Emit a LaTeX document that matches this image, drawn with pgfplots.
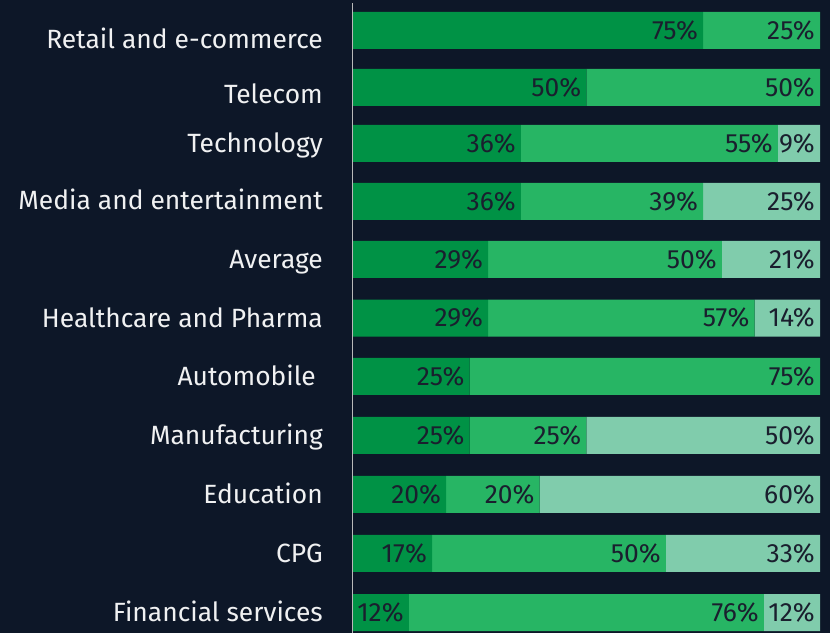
\documentclass[border=0pt]{standalone}
\usepackage{pgfplots}
\pgfplotsset{compat=1.18}
\usepackage{fontspec}
\setmainfont{Fira Sans}
\definecolor{bg}{HTML}{0D1728}
\definecolor{g1}{HTML}{009245}
\definecolor{g2}{HTML}{27B564}
\definecolor{g3}{HTML}{80CCAC}
\definecolor{txt}{HTML}{1A1F2E}
\begin{document}
\begin{tikzpicture}
\fill[bg] (0,0) rectangle (830bp,633bp);
\begin{axis}[
 at={(352.7bp,0bp)}, anchor=south west,
 scale only axis, width=467.3bp, height=633bp,
 xbar stacked, bar width=37bp,
 xmin=0, xmax=100, ymin=0, ymax=633, y dir=reverse,
 axis line style={draw=none},
 xtick=\empty,
 ytick={30.5,87.5,143.3,201.3,259.3,318,376.3,435.3,494.3,553.3,612.5},
 major tick length=0pt,
 yticklabels={
  {\raisebox{-8.3bp}{Retail and e-commerce}},
  {\raisebox{-6.5bp}{Telecom}},
  {Technology},
  {\raisebox{1.6bp}{Media and entertainment}},
  {\raisebox{0.5bp}{Average}},
  {Healthcare and Pharma},
  {Automobile\rule{7bp}{0pt}},
  {Manufacturing},
  {\raisebox{0.6bp}{Education}},
  {\raisebox{0.6bp}{CPG}},
  {\raisebox{0.8bp}{Financial services}}},
 yticklabel style={anchor=base east, inner sep=0pt, xshift=-29.7bp, yshift=-9.3bp, text=white!94!bg, font=\fontsize{26.5}{30}\selectfont},
 point meta=explicit symbolic,
 visualization depends on={rawx \as \rawx},
 nodes near coords={\pgfplotspointmeta},
 every node near coord/.append style={anchor=east, xshift={\rawx*2.3365bp-5bp}, text=txt, font=\fontsize{26.5}{30}\selectfont, inner sep=0pt},
 ]
\addplot[fill=g1, draw=none] coordinates {
 (75,30.5)[75\%] (50,87.5)[50\%] (36,143.3)[36\%] (36,201.3)[36\%] (29,259.3)[29\%] (29,318)[29\%]
 (25,376.3)[25\%] (25,435.3)[25\%] (20,494.3)[20\%] (17,553.3)[17\%] (12,612.5)[12\%]};
\addplot[fill=g2, draw=none] coordinates {
 (25,30.5)[25\%] (50,87.5)[50\%] (55,143.3)[55\%] (39,201.3)[39\%] (50,259.3)[50\%] (57,318)[57\%]
 (75,376.3)[75\%] (25,435.3)[25\%] (20,494.3)[20\%] (50,553.3)[50\%] (76,612.5)[76\%]};
\addplot[fill=g3, draw=none] coordinates {
 (0,30.5)[] (0,87.5)[] (9,143.3)[9\%] (25,201.3)[25\%] (21,259.3)[21\%] (14,318)[14\%]
 (0,376.3)[] (50,435.3)[50\%] (60,494.3)[60\%] (33,553.3)[33\%] (12,612.5)[12\%]};
\end{axis}
\draw[color=gray!55!white, line width=1.2bp] (352.3bp,0) -- (352.3bp,630bp);
\pgfresetboundingbox
\useasboundingbox (0,0) rectangle (830bp,633bp);
\end{tikzpicture}
\end{document}
